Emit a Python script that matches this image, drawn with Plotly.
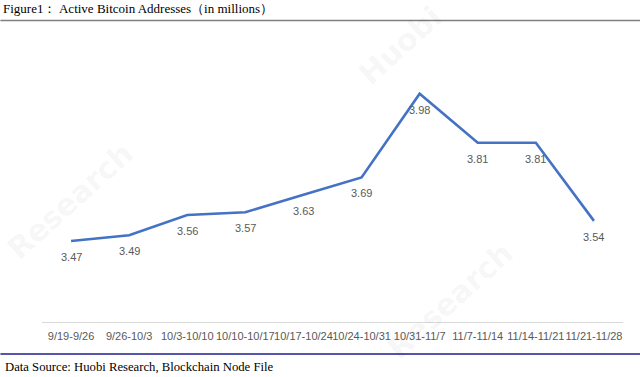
import plotly.graph_objects as go

weeks = ["9/19-9/26", "9/26-10/3", "10/3-10/10", "10/10-10/17", "10/17-10/24",
         "10/24-10/31", "10/31-11/7", "11/7-11/14", "11/14-11/21", "11/21-11/28"]
active_addresses = [3.47, 3.49, 3.56, 3.57, 3.63, 3.69, 3.98, 3.81, 3.81, 3.54]

title_text = "Figure1： Active Bitcoin Addresses（in millions）"
source_text = "Data Source: Huobi Research, Blockchain Node File"

W, H = 640, 377
L, R, T, B = 41.6, 17, 58.6, 55.4
pw, ph = W - L - R, H - T - B


def px(x):
    return (x - L) / pw


def py(y):
    return 1 - (y - T) / ph


fig = go.Figure()
fig.add_trace(go.Scatter(
    x=weeks, y=active_addresses, mode="lines",
    line=dict(color="#4472C4", width=2.6),
    hoverinfo="skip", showlegend=False,
))

annotations = []

# faint watermarks
wm_font = dict(family="DejaVu Sans", size=30, color="rgba(0,0,0,0.05)")
for text, x, y in [("Research", 70, 200), ("Research", 450, 300), ("Huobi", 400, 45)]:
    annotations.append(dict(
        x=px(x), y=py(y), xref="paper", yref="paper", text=f"<b>{text}</b>",
        showarrow=False, textangle=-42, font=wm_font, xanchor="center", yanchor="middle",
    ))

for wk, v in zip(weeks, active_addresses):
    annotations.append(dict(
        x=wk, y=v, xref="x", yref="y", text=f"{v:.2f}", showarrow=False,
        yshift=-16, font=dict(family="Liberation Sans, Arial", size=11, color="#595959"),
    ))

annotations.append(dict(
    x=px(1), y=py(8), xref="paper", yref="paper", text=title_text, showarrow=False,
    xanchor="left", yanchor="middle",
    font=dict(family="Liberation Serif, Times New Roman", size=13, color="#000000"),
))
annotations.append(dict(
    x=px(3), y=py(367), xref="paper", yref="paper", text=source_text, showarrow=False,
    xanchor="left", yanchor="middle",
    font=dict(family="Liberation Serif, Times New Roman", size=12.7, color="#000000"),
))

shapes = [
    dict(type="line", xref="paper", yref="paper", x0=px(0), x1=px(640), y0=py(20), y1=py(20),
         line=dict(color="#7F7F7F", width=1.5)),
    dict(type="line", xref="paper", yref="paper", x0=px(0), x1=px(640), y0=py(353.5), y1=py(353.5),
         line=dict(color="#1C1C8C", width=1.5)),
]

fig.update_layout(
    width=W, height=H,
    margin=dict(l=L, r=R, t=T, b=B, pad=0),
    paper_bgcolor="white", plot_bgcolor="white",
    annotations=annotations, shapes=shapes,
    xaxis=dict(
        type="category", range=[-0.5, len(weeks) - 0.5],
        showline=True, linecolor="#D9D9D9", linewidth=1,
        showgrid=False, zeroline=False, ticks="", ticklabelstandoff=4,
        tickfont=dict(family="Liberation Sans, Arial", size=11, color="#595959"),
        tickangle=0, fixedrange=True,
    ),
    yaxis=dict(
        range=[3.19, 4.1], visible=False, showgrid=False, zeroline=False, fixedrange=True,
    ),
)

fig.write_html(
    "out.html",
    config={"displayModeBar": False},
    post_script="document.body.style.margin='0';document.body.style.padding='0';",
)
